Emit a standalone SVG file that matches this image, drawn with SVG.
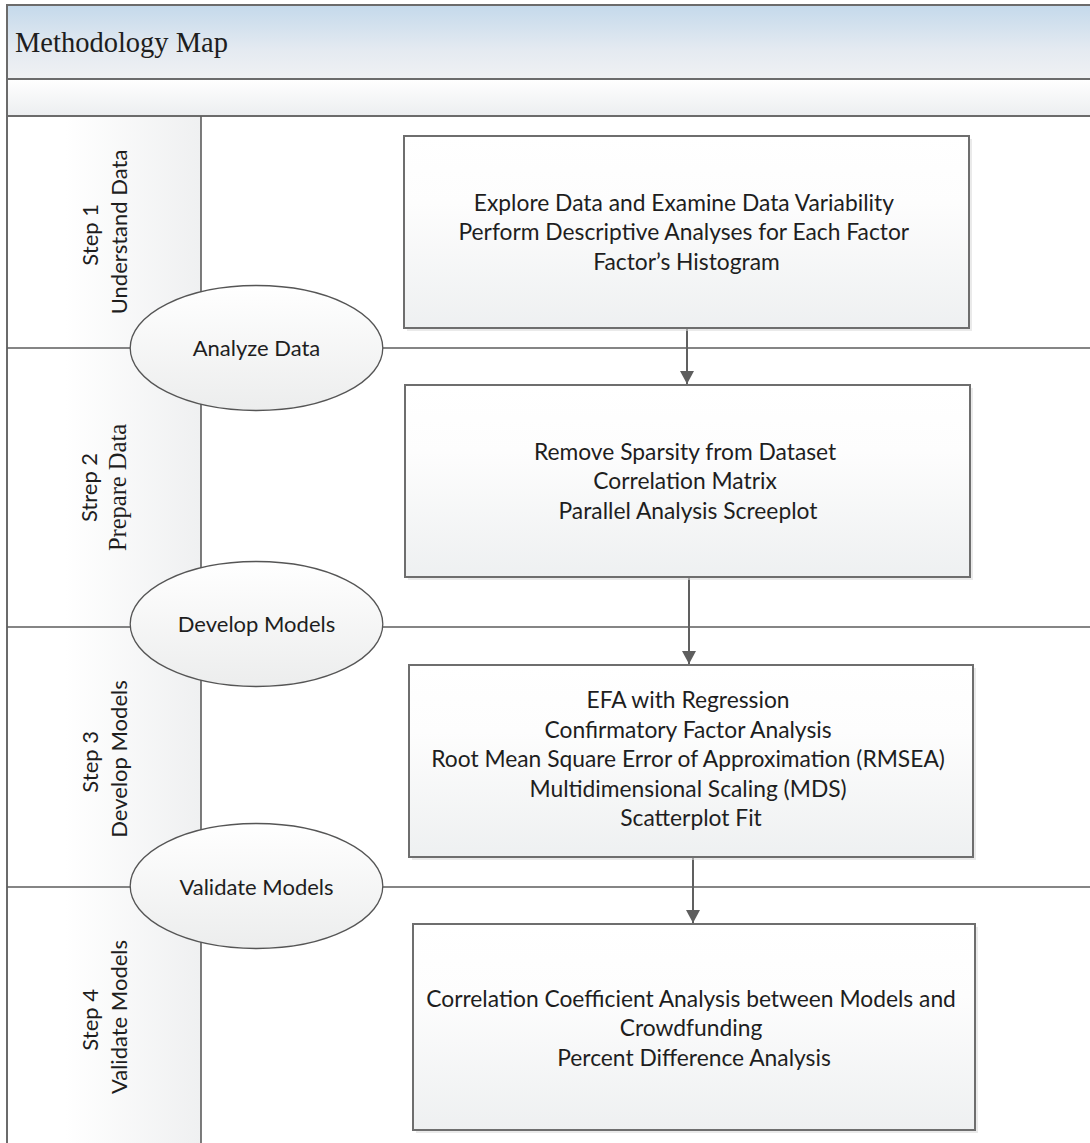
<svg xmlns="http://www.w3.org/2000/svg" width="1090" height="1143" viewBox="0 0 1090 1143">
  <defs>
    <linearGradient id="titleFill" x1="0" y1="0" x2="0" y2="1">
      <stop offset="0" stop-color="#c4d9eb"/>
      <stop offset="0.6" stop-color="#e4eaf1"/>
      <stop offset="1" stop-color="#f0f1f3"/>
    </linearGradient>
    <linearGradient id="bandFill" x1="0" y1="0" x2="0" y2="1">
      <stop offset="0" stop-color="#ffffff"/>
      <stop offset="1" stop-color="#eceef0"/>
    </linearGradient>
    <linearGradient id="headerFill" x1="7" y1="0" x2="201" y2="0" gradientUnits="userSpaceOnUse">
      <stop offset="0" stop-color="#ffffff"/>
      <stop offset="0.3" stop-color="#ffffff"/>
      <stop offset="1" stop-color="#eff0f1"/>
    </linearGradient>
    <linearGradient id="boxFill" x1="0" y1="0" x2="0" y2="1">
      <stop offset="0" stop-color="#ffffff"/>
      <stop offset="0.35" stop-color="#fdfdfd"/>
      <stop offset="1" stop-color="#eef0f1"/>
    </linearGradient>
    <linearGradient id="ovalFill" x1="0" y1="0" x2="0" y2="1">
      <stop offset="0" stop-color="#ffffff"/>
      <stop offset="1" stop-color="#eceded"/>
    </linearGradient>
    <marker id="arrow" markerWidth="14" markerHeight="14" refX="13" refY="7" orient="auto" markerUnits="userSpaceOnUse">
      <path d="M0,0 L13,7 L0,14 Z" fill="#5e5e5e"/>
    </marker>
    <style>
      .frame { fill: none; stroke: #6b6b6b; stroke-width: 2; }
      .rule { stroke: #5c5c5c; stroke-width: 1.6; fill: none; }
      .shadow { fill: #d8d8d8; opacity: 0.55; }
      .box { fill: url(#boxFill); stroke: #6e6e6e; stroke-width: 2; }
      .oval { fill: url(#ovalFill); stroke: #555555; stroke-width: 1.3; }
      .sans { font-family: Lato, "Open Sans", "Liberation Sans", sans-serif; font-size: 22px; fill: #1e1e1e; }
      .boxtext { font-size: 22.8px; }
      .serif { font-family: "Liberation Serif", "Times New Roman", serif; fill: #1e1e1e; }
      .conn { stroke: #606060; stroke-width: 2; fill: none; marker-end: url(#arrow); }
    </style>
  </defs>

  <!-- page background -->
  <rect x="0" y="0" width="1090" height="1143" fill="#ffffff"/>

  <!-- title band -->
  <g id="title">
    <rect x="7" y="5" width="1090" height="74" fill="url(#titleFill)"/>
    <text class="serif" x="15" y="52" font-size="28.5">Methodology Map</text>
  </g>
  <!-- empty band under the title -->
  <rect x="7" y="79" width="1090" height="37" fill="url(#bandFill)"/>

  <!-- lane header column -->
  <rect x="7" y="116" width="194" height="1035" fill="url(#headerFill)"/>

  <!-- frame and lane rules -->
  <g id="lanes">
    <path class="frame" d="M1092,5 H7 V1150"/>
    <line class="frame" x1="7" y1="79" x2="1092" y2="79"/>
    <line class="frame" x1="7" y1="116" x2="1092" y2="116"/>
    <line class="rule" x1="201" y1="116" x2="201" y2="1150"/>
    <line class="rule" x1="7" y1="348" x2="1092" y2="348"/>
    <line class="rule" x1="7" y1="627" x2="1092" y2="627"/>
    <line class="rule" x1="7" y1="887" x2="1092" y2="887"/>
  </g>

  <!-- lane labels -->
  <g id="lane1-label">
    <text class="sans" text-anchor="middle" transform="translate(98,232) rotate(-90)">
      <tspan x="0" y="0">Step 1</tspan>
      <tspan x="0" y="29">Understand Data</tspan>
    </text>
  </g>
  <g id="lane2-label">
    <text class="sans" text-anchor="middle" transform="translate(97,487.5) rotate(-90)">Strep 2</text>
    <text class="serif" font-size="24.5" text-anchor="middle" transform="translate(126,487.5) rotate(-90)">Prepare Data</text>
  </g>
  <g id="lane3-label">
    <text class="sans" text-anchor="middle" transform="translate(98,759) rotate(-90)">
      <tspan x="0" y="0">Step 3</tspan>
      <tspan x="0" y="29">Develop Models</tspan>
    </text>
  </g>
  <g id="lane4-label">
    <text class="sans" text-anchor="middle" transform="translate(98,1017) rotate(-90)">
      <tspan x="0" y="0">Step 4</tspan>
      <tspan x="0" y="29">Validate Models</tspan>
    </text>
  </g>

  <!-- connectors -->
  <g id="connectors">
    <line class="conn" x1="687" y1="329" x2="687" y2="384"/>
    <line class="conn" x1="689" y1="578" x2="689" y2="664"/>
    <line class="conn" x1="693" y1="858" x2="693" y2="923"/>
  </g>

  <!-- phase ovals -->
  <g id="analyze-data">
    <ellipse class="oval" cx="256.5" cy="348" rx="126.3" ry="62.5"/>
    <text class="sans" x="256.5" y="356" text-anchor="middle">Analyze Data</text>
  </g>
  <g id="develop-models">
    <ellipse class="oval" cx="256.5" cy="624" rx="126.3" ry="62.5"/>
    <text class="sans" x="256.5" y="632" text-anchor="middle">Develop Models</text>
  </g>
  <g id="validate-models">
    <ellipse class="oval" cx="256.5" cy="886" rx="126.3" ry="62.5"/>
    <text class="sans" x="256.5" y="895" text-anchor="middle">Validate Models</text>
  </g>

  <!-- process boxes -->
  <g id="box-understand">
    <rect class="shadow" x="407" y="139" width="565" height="192"/>
    <rect class="box" x="404" y="136" width="565" height="192"/>
    <text class="sans boxtext" text-anchor="middle">
      <tspan x="686.5" y="211">Explore Data and Examine Data Variability</tspan>
      <tspan x="686.5" y="240">Perform Descriptive Analyses for Each Factor</tspan>
      <tspan x="686.5" y="269.5">Factor’s Histogram</tspan>
    </text>
  </g>
  <g id="box-prepare">
    <rect class="shadow" x="408" y="388" width="565" height="192"/>
    <rect class="box" x="405" y="385" width="565" height="192"/>
    <text class="sans boxtext" text-anchor="middle">
      <tspan x="688" y="459.5">Remove Sparsity from Dataset</tspan>
      <tspan x="688" y="489">Correlation Matrix</tspan>
      <tspan x="688" y="518.5">Parallel Analysis Screeplot</tspan>
    </text>
  </g>
  <g id="box-develop">
    <rect class="shadow" x="412" y="668" width="564" height="192"/>
    <rect class="box" x="409" y="665" width="564" height="192"/>
    <text class="sans boxtext" text-anchor="middle">
      <tspan x="691" y="708">EFA with Regression</tspan>
      <tspan x="691" y="737.5">Confirmatory Factor Analysis</tspan>
      <tspan x="691" y="767">Root Mean Square Error of Approximation (RMSEA)</tspan>
      <tspan x="691" y="796.5">Multidimensional Scaling (MDS)</tspan>
      <tspan x="691" y="826">Scatterplot Fit</tspan>
    </text>
  </g>
  <g id="box-validate">
    <rect class="shadow" x="416" y="927" width="562" height="206"/>
    <rect class="box" x="413" y="924" width="562" height="206"/>
    <text class="sans boxtext" text-anchor="middle">
      <tspan x="694" y="1006.5">Correlation Coefficient Analysis between Models and</tspan>
      <tspan x="694" y="1036">Crowdfunding</tspan>
      <tspan x="694" y="1065.5">Percent Difference Analysis</tspan>
    </text>
  </g>
</svg>
